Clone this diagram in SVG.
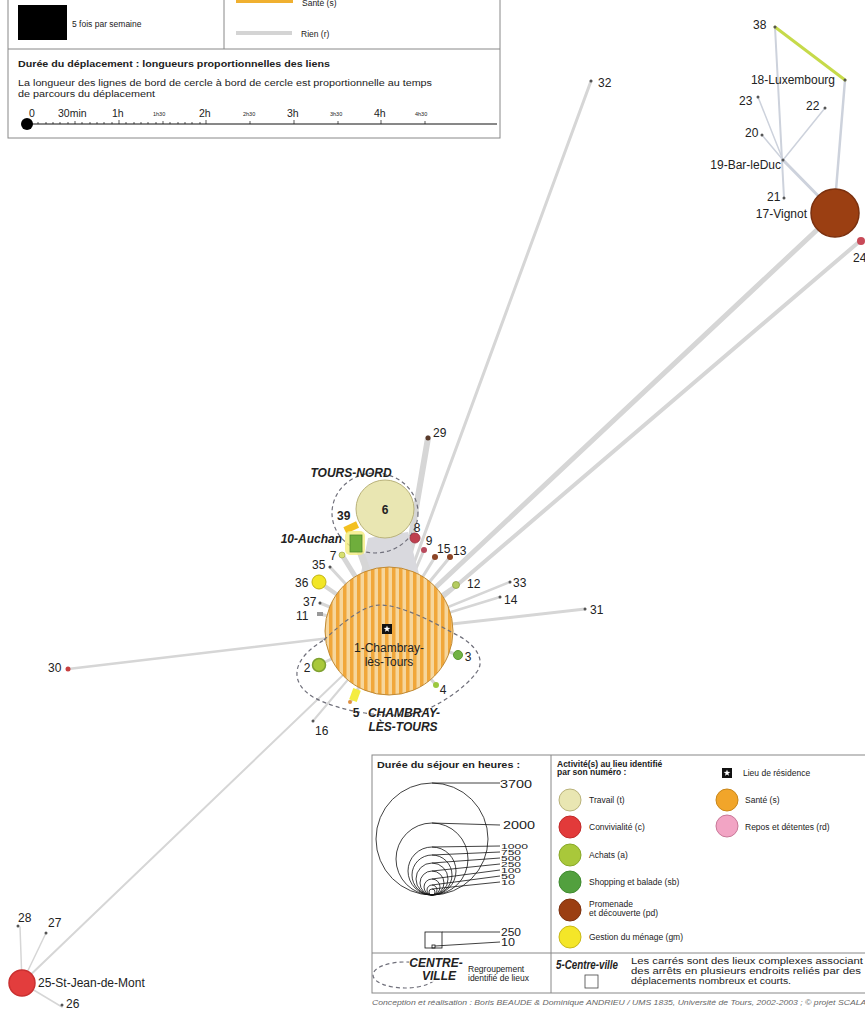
<svg xmlns="http://www.w3.org/2000/svg" width="865" height="1009" viewBox="0 0 865 1009">
<style>
text{font-family:"Liberation Sans",Arial,sans-serif;fill:#222}
.lbl{font-size:12px}
.grp{font-size:12px;font-weight:bold;font-style:italic}
.leg{font-size:8.5px}
.legb{font-size:8.5px;font-weight:bold}
.num{font-size:10px}
.ln{stroke:#d6d6d6;fill:none;stroke-linecap:round}
.lt{stroke:#cdd2dc;fill:none;stroke-linecap:round}
.dash{fill:none;stroke:#6f6f7a;stroke-width:1.2;stroke-dasharray:4 3}
.blk{stroke:#111;fill:none;stroke-width:0.8}
.dot{fill:#555}
</style>
<defs>
<pattern id="stripes" width="7" height="10" patternUnits="userSpaceOnUse" x="0">
<rect width="7" height="10" fill="#f6d69c"/>
<rect width="3.5" height="10" fill="#f1a73a"/>
</pattern>
<g id="star"><rect x="-5" y="-5" width="10" height="10" fill="#111"/><polygon points="0,-3.5 0.82,-1.13 3.33,-1.08 1.33,0.43 2.06,2.83 0,1.4 -2.06,2.83 -1.33,0.43 -3.33,-1.08 -0.82,-1.13" fill="#fff"/></g>
</defs>
<rect width="865" height="1009" fill="#fff"/>

<!-- top-left legend -->
<g id="legend-top">
<rect x="8" y="-5" width="492" height="143" fill="#fff" stroke="#888" stroke-width="1"/>
<line x1="224" y1="-5" x2="224" y2="49" stroke="#888"/>
<line x1="8" y1="49" x2="500" y2="49" stroke="#888"/>
<rect x="18" y="5" width="49" height="35" fill="#000"/>
<text class="leg" x="72" y="27">5 fois par semaine</text>
<rect x="236" y="-3" width="57" height="6" fill="#f0b030"/>
<text class="leg" x="302" y="6">Santé (s)</text>
<rect x="236" y="31" width="56" height="4" fill="#d4d4d4"/>
<text class="leg" x="301" y="37">Rien (r)</text>
<text class="legb" x="18" y="67" textLength="312" lengthAdjust="spacingAndGlyphs">Durée du déplacement : longueurs proportionnelles des liens</text>
<text class="leg" x="18" y="86" textLength="414" lengthAdjust="spacingAndGlyphs">La longueur des lignes de bord de cercle à bord de cercle est proportionnelle au temps</text>
<text class="leg" x="18" y="97" textLength="137" lengthAdjust="spacingAndGlyphs">de parcours du déplacement</text>
<g font-size="10.5">
<text x="29" y="117">0</text>
<text x="58" y="117">30min</text>
<text x="112" y="117">1h</text>
<text x="153" y="116" font-size="5.5">1h30</text>
<text x="199" y="117">2h</text>
<text x="243" y="116" font-size="5.5">2h30</text>
<text x="287" y="117">3h</text>
<text x="330" y="116" font-size="5.5">3h30</text>
<text x="374" y="117">4h</text>
<text x="415" y="116" font-size="5.5">4h30</text>
</g>
<line x1="26" y1="124" x2="497" y2="124" stroke="#111" stroke-width="1"/>
<path d="M38,124v-2M46,124v-2M53,124v-2M60,124v-2M68,124v-2M75,124v-3M82,124v-2M90,124v-2M97,124v-2M104,124v-2M112,124v-2M119,124v-4M126,124v-2M134,124v-2M141,124v-2M148,124v-2M156,124v-2M163,124v-3M170,124v-2M178,124v-2M185,124v-2M192,124v-2M200,124v-2M206,124v-4M250,124v-3M294,124v-4M338,124v-3M381,124v-4M425,124v-3" stroke="#111" stroke-width="0.7"/>
<circle cx="27" cy="124" r="6" fill="#000"/>
</g>

<!-- connectors -->
<g id="connectors">
<line class="ln" x1="389" y1="631" x2="591" y2="81" stroke-width="3"/>
<line class="ln" x1="395" y1="631" x2="428" y2="438" stroke-width="6" stroke="#cfcfcf"/>
<line class="ln" x1="389" y1="631" x2="835" y2="213" stroke-width="5"/>
<line class="ln" x1="395" y1="638" x2="860" y2="241" stroke-width="4"/>
<line class="ln" x1="389" y1="631" x2="585" y2="609" stroke-width="3"/>
<line class="ln" x1="389" y1="631" x2="500" y2="597" stroke-width="2.5"/>
<line class="ln" x1="389" y1="631" x2="510" y2="582" stroke-width="2.5"/>
<line class="ln" x1="389" y1="631" x2="456" y2="585" stroke-width="3" stroke="#e2d6e6"/>
<line class="ln" x1="389" y1="631" x2="450" y2="557" stroke-width="3" stroke="#dadada"/>
<line class="ln" x1="389" y1="631" x2="435" y2="557" stroke-width="3" stroke="#e4dcec"/>
<line class="ln" x1="389" y1="631" x2="424" y2="550" stroke-width="3" stroke="#e6dae6"/>
<line class="ln" x1="389" y1="631" x2="415" y2="538" stroke-width="4" stroke="#dcdcdc"/>
<polygon points="368,538 408,532 420,578 360,578" fill="#d9d9de"/>
<line class="ln" x1="389" y1="631" x2="356" y2="540" stroke-width="7" stroke="#dedede"/>
<line class="ln" x1="389" y1="631" x2="342" y2="555" stroke-width="5" stroke="#e2e2e2"/>
<line class="ln" x1="389" y1="631" x2="330" y2="567" stroke-width="3"/>
<line class="ln" x1="389" y1="631" x2="319" y2="582" stroke-width="4"/>
<line class="ln" x1="389" y1="631" x2="320" y2="603" stroke-width="3"/>
<line class="ln" x1="389" y1="631" x2="320" y2="614" stroke-width="3"/>
<line class="ln" x1="389" y1="631" x2="68" y2="669" stroke-width="2.5"/>
<line class="ln" x1="389" y1="631" x2="22" y2="983" stroke-width="2"/>
<line class="ln" x1="389" y1="631" x2="313" y2="721" stroke-width="2"/>
<line class="ln" x1="389" y1="631" x2="319" y2="665" stroke-width="3"/>
<line class="ln" x1="389" y1="631" x2="458" y2="655" stroke-width="3"/>
<line class="ln" x1="389" y1="631" x2="436" y2="685" stroke-width="3"/>
<line class="ln" x1="389" y1="631" x2="352" y2="700" stroke-width="3"/>
<line class="lt" x1="775" y1="27" x2="784" y2="198" stroke-width="2"/>
<line class="lt" x1="845" y1="80" x2="836" y2="190" stroke-width="2.5"/>
<line class="lt" x1="758" y1="97" x2="783" y2="160" stroke-width="1.5"/>
<line class="lt" x1="825" y1="108" x2="783" y2="160" stroke-width="1.5"/>
<line class="lt" x1="762" y1="135" x2="783" y2="160" stroke-width="1.5"/>
<line class="lt" x1="783" y1="160" x2="835" y2="213" stroke-width="3"/>
<line x1="775" y1="27" x2="845" y2="80" stroke="#c6da4a" stroke-width="3" stroke-linecap="round"/>
<line class="ln" x1="22" y1="983" x2="20" y2="927" stroke-width="1.5"/>
<line class="ln" x1="22" y1="983" x2="46" y2="933" stroke-width="1.5"/>
<line class="ln" x1="22" y1="983" x2="62" y2="1007" stroke-width="1.5"/>
</g>

<!-- groups -->
<g id="group-tours-nord">
<ellipse class="dash" cx="375" cy="513" rx="43" ry="40"/>
<text class="grp" x="351" y="477" text-anchor="middle">TOURS-NORD</text>
</g>
<g id="group-chambray">
<path class="dash" d="M324,640 C345,620 365,605 380,605 C400,605 430,620 453,633 C475,643 487,660 476,673 C465,688 440,705 420,712 C390,720 340,712 313,697 C290,683 290,660 324,640 Z"/>
<text class="grp" x="404" y="717" text-anchor="middle">CHAMBRAY-</text>
<text class="grp" x="403" y="731" text-anchor="middle">LÈS-TOURS</text>
</g>

<!-- nodes -->
<g id="n1">
<circle cx="389" cy="631" r="64" fill="url(#stripes)" stroke="#c08a35" stroke-width="1"/>
<path class="dash" d="M324,640 C345,620 365,605 380,605 C400,605 430,620 453,633"/>
<use href="#star" x="387" y="629"/>
<text class="lbl" x="389" y="652" text-anchor="middle">1-Chambray-</text>
<text class="lbl" x="389" y="666" text-anchor="middle">lès-Tours</text>
</g>
<g id="n6">
<circle cx="385" cy="509" r="29" fill="#e9e6b2" stroke="#b9b27a" stroke-width="1"/>
<text class="lbl" x="385" y="514" text-anchor="middle" font-weight="bold">6</text>
</g>
<g id="n39">
<rect x="344" y="524" width="14" height="7" fill="#f3c020" transform="rotate(-25 351 527)"/>
<text class="lbl" x="337" y="520" font-weight="bold">39</text>
</g>
<g id="n10">
<rect x="345" y="531" width="20" height="24" rx="5" fill="#f4ec80" opacity="0.8"/>
<rect x="350" y="535" width="12" height="17" fill="#6fae3c" stroke="#4f8a2a" stroke-width="0.8"/>
<text class="grp" x="342" y="543" text-anchor="end">10-Auchan</text>
</g>
<g id="n7"><circle cx="342" cy="555" r="3" fill="#d8e070" stroke="#9aa040" stroke-width="0.6"/><text class="lbl" x="333" y="560" text-anchor="middle">7</text></g>
<g id="n35"><circle cx="330" cy="567" r="1.5" class="dot"/><text class="lbl" x="312" y="569">35</text></g>
<g id="n36"><circle cx="319" cy="582" r="7" fill="#f2e626" stroke="#c2b410" stroke-width="1"/><text class="lbl" x="295" y="587">36</text></g>
<g id="n37"><circle cx="320" cy="603" r="1.5" class="dot"/><text class="lbl" x="303" y="606">37</text></g>
<g id="n11"><rect x="317" y="612" width="6" height="4" fill="#999"/><text class="lbl" x="296" y="620">11</text></g>
<g id="n2"><circle cx="319" cy="665" r="6.5" fill="#a9c83a" stroke="#7ea030" stroke-width="1.5"/><text class="lbl" x="307" y="672" text-anchor="middle">2</text></g>
<g id="n3"><circle cx="458" cy="655" r="4.5" fill="#72b244" stroke="#5a9a30" stroke-width="1"/><text class="lbl" x="468" y="661" text-anchor="middle">3</text></g>
<g id="n4"><circle cx="436" cy="685" r="3" fill="#9cc840"/><text class="lbl" x="443" y="694" text-anchor="middle">4</text></g>
<g id="n5"><rect x="351" y="689" width="8" height="12" fill="#f4ec40" transform="rotate(20 355 695)"/><circle cx="350" cy="702" r="2" fill="#e09040"/><text class="lbl" x="356" y="717" text-anchor="middle" font-weight="bold">5</text></g>
<g id="n16"><circle cx="313" cy="721" r="1.5" class="dot"/><text class="lbl" x="315" y="735">16</text></g>
<g id="n8"><circle cx="415" cy="538" r="5" fill="#bf3f4e" stroke="#9a3040" stroke-width="0.8"/><text class="lbl" x="417" y="532" text-anchor="middle">8</text></g>
<g id="n9"><circle cx="424" cy="550" r="3" fill="#b84a5c"/><text class="lbl" x="429" y="545" text-anchor="middle">9</text></g>
<g id="n15"><circle cx="435" cy="557" r="3" fill="#8c4526"/><text class="lbl" x="437" y="553">15</text></g>
<g id="n13"><circle cx="450" cy="557" r="3" fill="#8c4526"/><text class="lbl" x="453" y="555">13</text></g>
<g id="n12"><circle cx="456" cy="585" r="3.5" fill="#b5cc60" stroke="#8aa040" stroke-width="0.8"/><text class="lbl" x="467" y="588">12</text></g>
<g id="n33"><circle cx="510" cy="582" r="1.5" class="dot"/><text class="lbl" x="513" y="587">33</text></g>
<g id="n14"><circle cx="500" cy="597" r="1.5" class="dot"/><text class="lbl" x="504" y="604">14</text></g>
<g id="n31"><circle cx="585" cy="609" r="1.5" class="dot"/><text class="lbl" x="590" y="614">31</text></g>
<g id="n29"><circle cx="428" cy="438" r="2.5" fill="#5a3a2a"/><text class="lbl" x="433" y="437">29</text></g>
<g id="n32"><circle cx="591" cy="81" r="1.5" class="dot"/><text class="lbl" x="598" y="87">32</text></g>
<g id="n30"><circle cx="68" cy="669" r="2.5" fill="#c84040"/><text class="lbl" x="48" y="672">30</text></g>
<g id="n24"><circle cx="861" cy="241" r="4" fill="#c84a58"/><text class="lbl" x="853" y="262">24</text></g>
<g id="n17"><circle cx="835" cy="213" r="24" fill="#9b3f12" stroke="#7b300e" stroke-width="1.5"/><text class="lbl" x="807" y="218" text-anchor="end">17-Vignot</text></g>
<g id="n18"><circle cx="845" cy="80" r="1.5" class="dot"/><text class="lbl" x="835" y="84" text-anchor="end">18-Luxembourg</text></g>
<g id="n19"><circle cx="783" cy="160" r="1.5" class="dot"/><text class="lbl" x="781" y="169" text-anchor="end">19-Bar-leDuc</text></g>
<g id="n20"><circle cx="762" cy="135" r="1.5" class="dot"/><text class="lbl" x="745" y="137">20</text></g>
<g id="n21"><circle cx="784" cy="198" r="1.5" class="dot"/><text class="lbl" x="767" y="201">21</text></g>
<g id="n22"><circle cx="825" cy="108" r="1.5" class="dot"/><text class="lbl" x="806" y="110">22</text></g>
<g id="n23"><circle cx="758" cy="97" r="1.5" class="dot"/><text class="lbl" x="739" y="105">23</text></g>
<g id="n38"><circle cx="775" cy="27" r="1.5" class="dot"/><text class="lbl" x="753" y="29">38</text></g>
<g id="n25"><circle cx="22" cy="983" r="13" fill="#e33d3d" stroke="#c93030" stroke-width="1.5"/><text class="lbl" x="38" y="987">25-St-Jean-de-Mont</text></g>
<g id="n26"><circle cx="62" cy="1005" r="1.5" class="dot"/><text class="lbl" x="66" y="1008" font-size="9">26</text></g>
<g id="n27"><circle cx="46" cy="933" r="1.5" class="dot"/><text class="lbl" x="48" y="927">27</text></g>
<g id="n28"><circle cx="18" cy="926" r="1.5" class="dot"/><text class="lbl" x="18" y="922">28</text></g>

<!-- bottom legend -->
<g id="legend-bottom">
<rect x="372" y="755" width="500" height="238" fill="#fff" stroke="#888" stroke-width="1"/>
<line x1="551" y1="755" x2="551" y2="993" stroke="#888"/>
<line x1="372" y1="953" x2="865" y2="953" stroke="#888"/>
<text class="legb" x="377" y="768" textLength="143" lengthAdjust="spacingAndGlyphs">Durée du séjour en heures :</text>
<g class="blk">
<circle cx="432" cy="839" r="56"/>
<circle cx="432" cy="859" r="36"/>
<circle cx="432" cy="871" r="24"/>
<circle cx="432" cy="875" r="20"/>
<circle cx="432" cy="879" r="16"/>
<circle cx="432" cy="883" r="12"/>
<circle cx="432" cy="887" r="8"/>
<circle cx="432" cy="890" r="5"/>
<circle cx="432" cy="892" r="3"/>
<line x1="432" y1="783" x2="500" y2="783"/>
<line x1="432" y1="823" x2="500" y2="825"/>
<line x1="432" y1="847" x2="500" y2="846"/>
<line x1="432" y1="855" x2="500" y2="852"/>
<line x1="432" y1="863" x2="500" y2="858"/>
<line x1="432" y1="871" x2="500" y2="864"/>
<line x1="432" y1="879" x2="500" y2="870"/>
<line x1="432" y1="885" x2="500" y2="876"/>
<line x1="432" y1="889" x2="500" y2="882"/>
<rect x="425" y="932" width="17" height="16"/>
<rect x="432" y="945" width="3" height="3"/>
<line x1="442" y1="932" x2="500" y2="932"/>
<line x1="435" y1="946" x2="500" y2="942"/>
</g>
<g class="num">
<text x="500" y="788" textLength="32" lengthAdjust="spacingAndGlyphs">3700</text>
<text x="503" y="829" textLength="32" lengthAdjust="spacingAndGlyphs">2000</text>
<g font-size="6.5">
<text x="501" y="849" textLength="27" lengthAdjust="spacingAndGlyphs">1000</text>
<text x="501" y="855" textLength="20" lengthAdjust="spacingAndGlyphs">750</text>
<text x="501" y="861" textLength="20" lengthAdjust="spacingAndGlyphs">500</text>
<text x="501" y="867" textLength="20" lengthAdjust="spacingAndGlyphs">250</text>
<text x="501" y="873" textLength="20" lengthAdjust="spacingAndGlyphs">100</text>
<text x="501" y="879" textLength="14" lengthAdjust="spacingAndGlyphs">50</text>
<text x="501" y="885" textLength="14" lengthAdjust="spacingAndGlyphs">10</text>
</g>
<text x="501" y="936" textLength="20" lengthAdjust="spacingAndGlyphs">250</text>
<text x="501" y="946" textLength="14" lengthAdjust="spacingAndGlyphs">10</text>
</g>
<ellipse class="dash" cx="405" cy="975" rx="32" ry="13"/>
<rect x="409" y="956" width="54" height="26" fill="#fff" opacity="0.85"/>
<text class="grp" x="436" y="967" text-anchor="middle">CENTRE-</text>
<text class="grp" x="439" y="980" text-anchor="middle">VILLE</text>
<text class="leg" x="468" y="972" font-size="7.5">Regroupement</text>
<text class="leg" x="468" y="981" font-size="7.5">identifié de lieux</text>

<text class="legb" x="557" y="767">Activité(s) au lieu identifié</text>
<text class="legb" x="557" y="775">par son numéro :</text>
<circle cx="570" cy="800" r="11" fill="#e9e6b2" stroke="#b9b27a"/>
<circle cx="570" cy="827" r="11" fill="#e23a3a" stroke="#c02828"/>
<circle cx="570" cy="855" r="11" fill="#a9c83a" stroke="#88a828"/>
<circle cx="570" cy="882" r="11" fill="#52a03e" stroke="#3e8a2e"/>
<circle cx="570" cy="910" r="11" fill="#9b3f12" stroke="#7b300e"/>
<circle cx="570" cy="937" r="11" fill="#f4e628" stroke="#c8b818"/>
<text class="leg" x="589" y="803">Travail (t)</text>
<text class="leg" x="589" y="830">Convivialité (c)</text>
<text class="leg" x="589" y="858">Achats (a)</text>
<text class="leg" x="589" y="885">Shopping et balade (sb)</text>
<text class="leg" x="589" y="907">Promenade</text>
<text class="leg" x="589" y="916">et découverte (pd)</text>
<text class="leg" x="589" y="940">Gestion du ménage (gm)</text>
<use href="#star" x="727" y="773"/>
<text class="leg" x="743" y="776" font-size="9">Lieu de résidence</text>
<circle cx="727" cy="800" r="11" fill="#f1a52a" stroke="#c8861a"/>
<text class="leg" x="745" y="803" font-size="9">Santé (s)</text>
<circle cx="727" cy="826" r="11" fill="#f2a4c4" stroke="#c87898"/>
<text class="leg" x="745" y="830" font-size="9">Repos et détentes (rd)</text>

<text class="grp" x="556" y="969" font-size="10.5" textLength="62" lengthAdjust="spacingAndGlyphs">5-Centre-ville</text>
<rect x="585" y="975" width="13" height="13" fill="#fff" stroke="#444" stroke-width="0.8"/>
<text class="leg" x="631" y="964" textLength="232" lengthAdjust="spacingAndGlyphs">Les carrés sont des lieux complexes associant</text>
<text class="leg" x="631" y="974" textLength="230" lengthAdjust="spacingAndGlyphs">des arrêts en plusieurs endroits reliés par des</text>
<text class="leg" x="631" y="984" textLength="160" lengthAdjust="spacingAndGlyphs">déplacements nombreux et courts.</text>
</g>
<text x="372" y="1005" font-size="6.5" style="fill:#666" font-style="italic" textLength="500" lengthAdjust="spacingAndGlyphs">Conception et réalisation : Boris BEAUDE &amp; Dominique ANDRIEU / UMS 1835, Université de Tours, 2002-2003 ; © projet SCALAB</text>
</svg>
